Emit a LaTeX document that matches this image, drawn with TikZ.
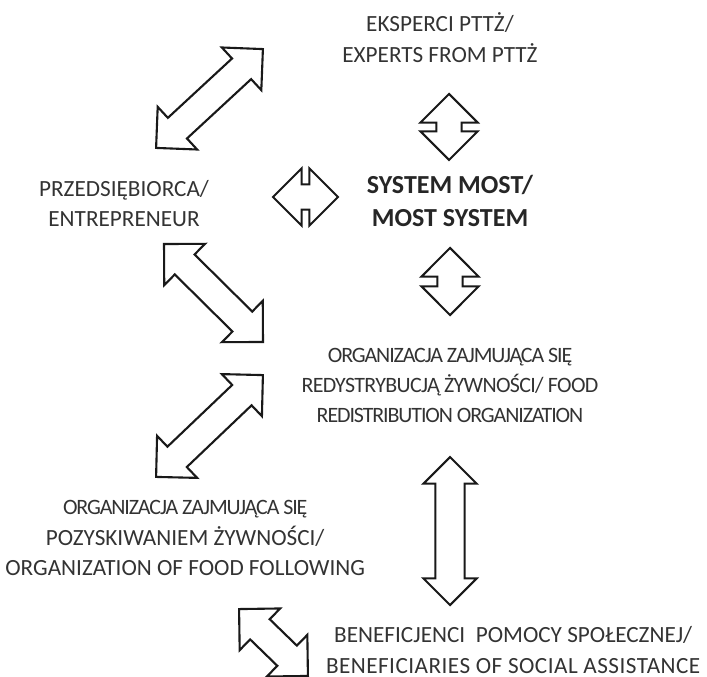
\documentclass[tikz,border=0pt]{standalone}
\usepackage{fontspec}
\setmainfont{Carlito}
\usepackage{tikz}
\usetikzlibrary{shapes.arrows, calc, positioning}

% two-headed block arrow between two named points
\newcommand{\linkarrow}[4][]{%
  \path let \p1=($(#3)-(#2)$), \n1={atan2(\y1,\x1)}, \n2={veclen(\x1,\y1)} in
    node[twoway, #1, rotate=\n1, minimum height=\n2] (#4) at ($(#2)!0.5!(#3)$) {};}
% condensed line
\newcommand{\tight}[2][-5]{{\fontsize{15.6pt}{21.5pt}\selectfont\addfontfeature{LetterSpace=#1}#2}}

\begin{document}
\begin{tikzpicture}[
  font=\fontsize{16.5pt}{21.5pt}\selectfont,
  actor/.style={
    text=black!80, align=center, inner sep=0pt
  },
  sysnode/.style={
    text=black!85, align=center, inner sep=0pt,
    font=\fontsize{18.5pt}{23.5pt}\selectfont\bfseries
  },
  twoway/.style={
    double arrow, draw=black!90, fill=white, line width=1.5pt,
    double arrow tip angle=90, double arrow head extend=0.375cm,
    inner xsep=0pt, inner ysep=0.325cm, minimum width=0pt
  },
  short/.style={
    inner ysep=0.29cm, double arrow head extend=0.4cm
  },
  long/.style={
    inner ysep=0.34cm, double arrow head extend=0.3cm
  }
]
\useasboundingbox (0,0) rectangle (17.675,-16.925);

% ── Text nodes ───────────────────────────────────────────────
\node[actor] (experts) at (11.0,-0.94) {EKSPERCI PTTŻ/\\EXPERTS FROM PTTŻ};
\node[actor] (entre) at (3.10,-5.08) {PRZEDSIĘBIORCA/\\ENTREPRENEUR};
\node[sysnode] (most) at (11.25,-5.03) {SYSTEM MOST/\\MOST SYSTEM};
\node[actor] (redist) at (11.25,-9.63)
  {\tight{ORGANIZACJA ZAJMUJĄCA SIĘ}\\\tight[-3]{REDYSTRYBUCJĄ ŻYWNOŚCI/ FOOD}\\\tight{REDISTRIBUTION ORGANIZATION}};
\node[actor] (acquire) at (4.63,-13.45)
  {\tight{ORGANIZACJA ZAJMUJĄCA SIĘ}\\POZYSKIWANIEM ŻYWNOŚCI/\\ORGANIZATION OF FOOD FOLLOWING};
\node[actor] (benef) at (12.83,-16.25)
  {BENEFICJENCI\ \ POMOCY SPOŁECZNEJ/\\{\addfontfeature{LetterSpace=2}BENEFICIARIES OF SOCIAL ASSISTANCE}};

% ── Arrow end points ─────────────────────────────────────────
\coordinate (a1s) at (3.90,-3.70);    \coordinate (a1e) at (6.575,-1.225);
\coordinate (a2s) at (4.10,-6.10);    \coordinate (a2e) at (6.575,-8.55);
\coordinate (a3s) at (3.90,-11.925);  \coordinate (a3e) at (6.575,-9.375);
\coordinate (a4s) at (5.975,-15.225); \coordinate (a4e) at (7.70,-16.90);
\coordinate (a5s) at (6.825,-4.925);  \coordinate (a5e) at (8.45,-4.925);
\coordinate (a6s) at (11.225,-2.35);  \coordinate (a6e) at (11.225,-4.0);
\coordinate (a7s) at (11.25,-6.20);   \coordinate (a7e) at (11.25,-7.875);
\coordinate (a8s) at (11.25,-11.425); \coordinate (a8e) at (11.25,-15.125);

% ── Block arrows ─────────────────────────────────────────────
\linkarrow{a1s}{a1e}{entreexp}
\linkarrow{a2s}{a2e}{entreredist}
\linkarrow{a3s}{a3e}{acqredist}
\linkarrow{a4s}{a4e}{acqbenef}
\linkarrow[short]{a5s}{a5e}{entremost}
\linkarrow[short]{a6s}{a6e}{expmost}
\linkarrow[short]{a7s}{a7e}{mostredist}
\linkarrow[long]{a8s}{a8e}{redistbenef}

\end{tikzpicture}
\end{document}
